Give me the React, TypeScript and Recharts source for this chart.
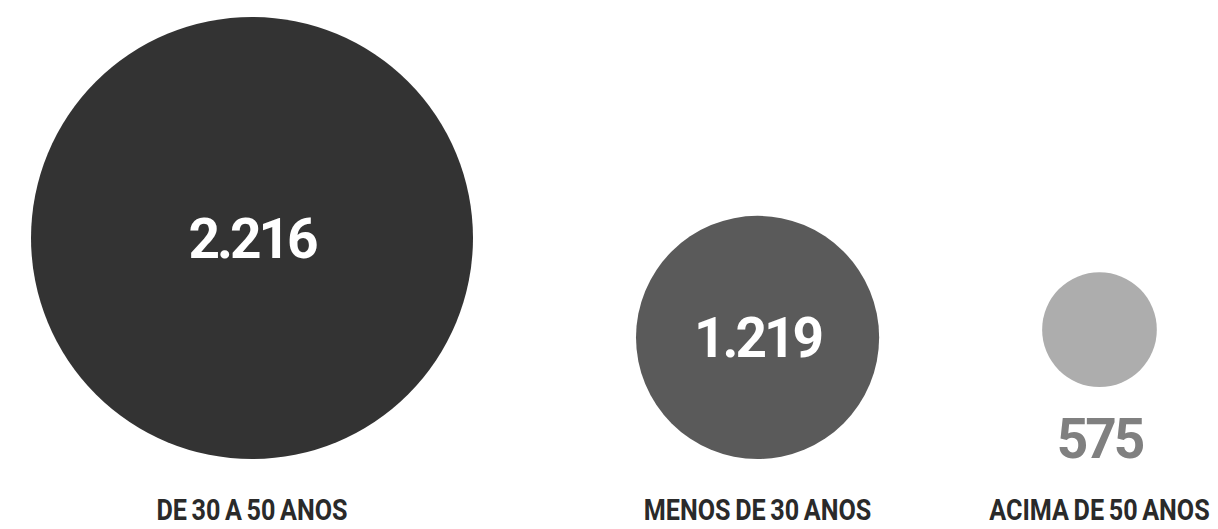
import { ScatterChart, Scatter, XAxis, YAxis } from "recharts";

// Faixa etária
const categories = ["DE 30 A 50 ANOS", "MENOS DE 30 ANOS", "ACIMA DE 50 ANOS"];
const values = [2216, 1219, 575];
const colors = ["#333333", "#5a5a5a", "#adadad"];

const WIDTH = 1218;
const HEIGHT = 529;
const LEFT = 31;
const GAP = 163;
const BASELINE = 459;
const MAX_R = 221;
const INSIDE_MIN_R = 80;
const OUTSIDE_SPACE = 72;

const fmt = (v: number) => String(v).replace(/\B(?=(\d{3})+(?!\d))/g, ".");

// radius grows linearly with the value, circles placed side by side with equal gaps
const maxValue = Math.max(...values);
let cursor = LEFT;
const points = values.map((v, i) => {
  const r = (v / maxValue) * MAX_R;
  const inside = r >= INSIDE_MIN_R;
  const x = cursor + r;
  cursor += 2 * r + GAP;
  const y = inside ? BASELINE - r : BASELINE - OUTSIDE_SPACE - r;
  return { x, y, r, value: v, name: categories[i], fill: colors[i], inside };
});

function Bubble(props: any) {
  const { cx, cy, payload } = props;
  if (cx == null || cy == null) return null;
  const { r, fill, value, name, inside } = payload;
  const valueY = inside ? cy + 19.5 : cy + r + OUTSIDE_SPACE - 1;
  return (
    <g>
      <circle cx={cx} cy={cy} r={r} fill={fill} />
      <text
        x={cx}
        y={valueY}
        textAnchor="middle"
        fill={inside ? "#ffffff" : "#808080"}
        fontFamily="Roboto, sans-serif"
        fontWeight={700}
        fontSize={55}
        letterSpacing={-3}
      >
        {fmt(value)}
      </text>
      <g transform={`translate(${cx}, 520) scale(0.84, 1)`}>
        <text
          x={0}
          y={0}
          textAnchor="middle"
          fill="#2a2a2a"
          fontFamily="Roboto, sans-serif"
          fontWeight={700}
          fontSize={30}
          wordSpacing={-2}
        >
          {name}
        </text>
      </g>
    </g>
  );
}

export default function App() {
  return (
    <div style={{ position: "absolute", left: 0, top: 0, background: "#ffffff" }}>
      <ScatterChart
        width={WIDTH}
        height={HEIGHT}
        margin={{ top: 0, right: 0, bottom: 0, left: 0 }}
      >
        <XAxis type="number" dataKey="x" domain={[0, WIDTH]} allowDataOverflow hide />
        <YAxis type="number" dataKey="y" domain={[0, HEIGHT]} allowDataOverflow reversed hide />
        <Scatter data={points} shape={<Bubble />} isAnimationActive={false} />
      </ScatterChart>
    </div>
  );
}
